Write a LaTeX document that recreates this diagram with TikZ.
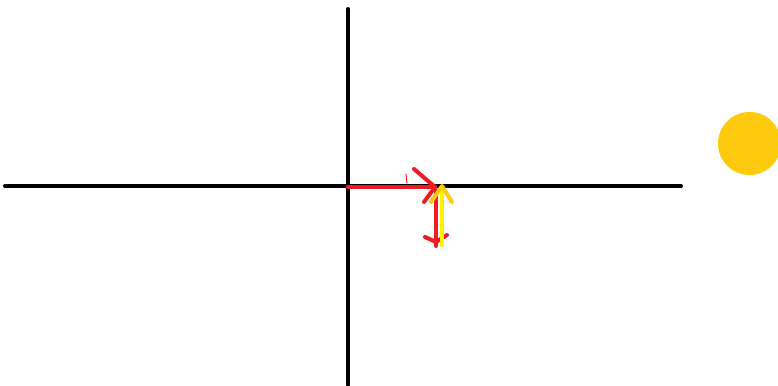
\documentclass[tikz,border=0pt]{standalone}
\usepackage{tikz}
\usetikzlibrary{arrows.meta, positioning, calc}
\usepackage{xcolor}
\definecolor{paintred}{RGB}{237,28,36}
\definecolor{paintyellow}{RGB}{255,242,0}
\definecolor{sunorange}{RGB}{255,201,14}

\begin{document}
\begin{tikzpicture}[x=1pt, y=-1pt, line cap=round, line join=round]
  \useasboundingbox (0,0) rectangle (778,385);
  % axes
  \draw[line width=4] (5,186) -- (681,186);
  \draw[line width=4] (348,9) -- (348,385);
  % sun
  \fill[sunorange] (749.5,143.5) circle (31.5);
  \coordinate (o) at (348,187);
  \coordinate (p) at (435,187);
  % red arrows
  \draw[paintred, line width=4] (o) -- (p);
  \draw[paintred, line width=4] (414,169) -- (p) -- (424,202);
  \draw[paintred, line width=1] (406,174) -- (407,183);
  \draw[paintred, line width=4] (436,190) -- (436,246);
  \draw[paintred, line width=4] (425,237) -- (436,242) -- (447,235);
  % yellow arrow
  \draw[paintyellow, line width=4] (441.5,245) -- (441.5,188);
  \draw[sunorange, line width=4] (431,202) -- (442,186) -- (452,202);
\end{tikzpicture}
\end{document}
